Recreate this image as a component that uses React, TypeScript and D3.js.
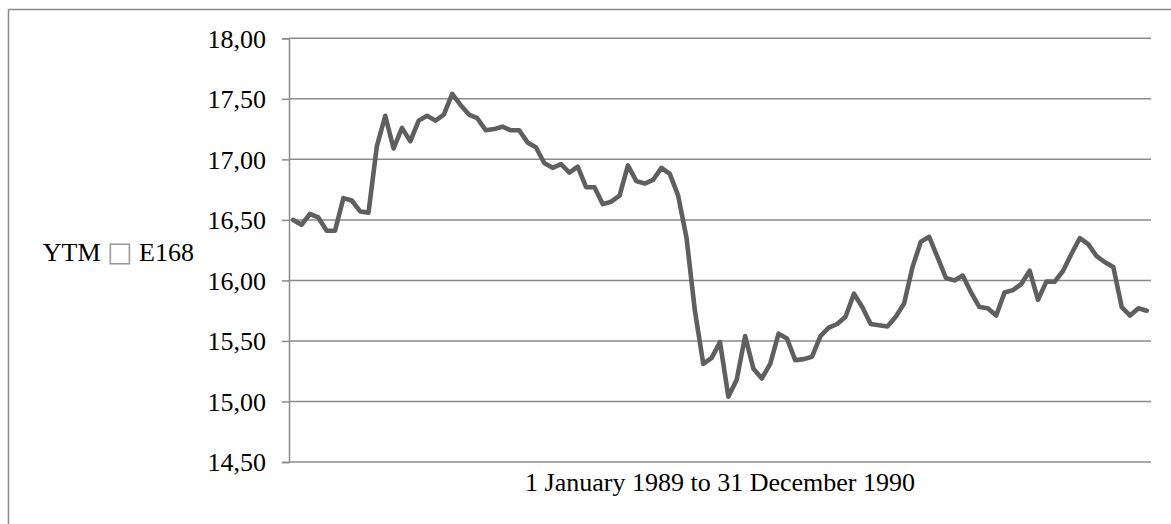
import { useEffect, useRef } from 'react';
import * as d3 from 'd3';

// weekly YTM of E168, 1 Jan 1989 – 31 Dec 1990
const ytmValues = [
	16.50, 16.46, 16.55, 16.52, 16.41, 16.41, 16.68, 16.66, 16.57, 16.56,
	17.11, 17.36, 17.09, 17.26, 17.15, 17.32, 17.36, 17.32, 17.37, 17.54,
	17.45, 17.37, 17.34, 17.24, 17.25, 17.27, 17.24, 17.24, 17.14, 17.10,
	16.97, 16.93, 16.96, 16.89, 16.94, 16.77, 16.77, 16.63, 16.65, 16.70,
	16.95, 16.82, 16.80, 16.83, 16.93, 16.88, 16.70, 16.35, 15.75, 15.31,
	15.36, 15.49, 15.04, 15.18, 15.54, 15.27, 15.19, 15.31, 15.56, 15.52,
	15.34, 15.35, 15.37, 15.54, 15.61, 15.64, 15.70, 15.89, 15.78, 15.64,
	15.63, 15.62, 15.70, 15.81, 16.11, 16.32, 16.36, 16.19, 16.02, 16.00,
	16.04, 15.90, 15.78, 15.77, 15.71, 15.90, 15.92, 15.97, 16.08, 15.84,
	15.99, 15.99, 16.08, 16.22, 16.35, 16.30, 16.20, 16.15, 16.11, 15.78,
	15.71, 15.77, 15.75
];

// one category per week, no labels shown on the axis
const weekIndex = ytmValues.map((_, i) => i);

const yTicks = [14.5, 15, 15.5, 16, 16.5, 17, 17.5, 18];

// the source title contains a glyph that did not render (shown as a box)
const yTitleParts = ['YTM ', '\u25A1', ' E168'];
const xTitle = '1 January 1989 to 31 December 1990';

export default function App() {
	const svgRef = useRef(null);

	useEffect(() => {
		const svg = d3.select(svgRef.current);
		svg.selectAll('*').remove();

		const width = 1171;
		const height = 524;
		const plot = { left: 289, right: 1151, top: 38.3, bottom: 462 };
		const font = '"Liberation Serif", "Times New Roman", serif';
		const gridColor = '#8a8a8a';

		const nl = d3.formatLocale({ decimal: ',', thousands: '.', grouping: [3], currency: ['', ''] });
		const fmt = nl.format('.2f');

		svg.attr('viewBox', `0 0 ${width} ${height}`);

		// outer chart frame (only left and top edges are inside the picture)
		svg.append('path')
			.attr('d', `M8.5,${height} V9.5 H${width}`)
			.attr('fill', 'none')
			.attr('stroke', gridColor)
			.attr('stroke-width', 1.5);

		const x = d3.scalePoint().domain(weekIndex).range([plot.left, plot.right]).padding(0.5);
		const y = d3.scaleLinear().domain([14.5, 18]).range([plot.bottom, plot.top]);

		// gridlines
		svg.append('g')
			.selectAll('line')
			.data(yTicks)
			.join('line')
			.attr('x1', plot.left)
			.attr('x2', plot.right)
			.attr('y1', (d) => y(d))
			.attr('y2', (d) => y(d))
			.attr('stroke', gridColor)
			.attr('stroke-width', 1.5);

		// y axis
		const yAxis = svg.append('g')
			.attr('transform', `translate(${plot.left},0)`)
			.call(d3.axisLeft(y).tickValues(yTicks).tickSize(7).tickPadding(16).tickFormat(fmt));
		yAxis.select('.domain').attr('stroke', gridColor).attr('stroke-width', 1.5);
		yAxis.selectAll('.tick line').attr('stroke', gridColor).attr('stroke-width', 1.5);
		yAxis.selectAll('.tick text')
			.attr('font-family', font)
			.attr('font-size', 26)
			.attr('fill', '#000')
			.attr('dy', '0.34em');

		// series
		const line = d3.line()
			.x((_, i) => x(weekIndex[i]))
			.y((d) => y(d));

		svg.append('path')
			.datum(ytmValues)
			.attr('d', line)
			.attr('fill', 'none')
			.attr('stroke', '#5f5f5f')
			.attr('stroke-width', 4.6)
			.attr('stroke-linejoin', 'round')
			.attr('stroke-linecap', 'round');

		// titles
		const yt = svg.append('text')
			.attr('x', 194)
			.attr('y', 261)
			.attr('text-anchor', 'end')
			.attr('font-family', font)
			.attr('font-size', 26)
			.attr('fill', '#000');
		yt.append('tspan').text(yTitleParts[0]);
		yt.append('tspan')
			.attr('font-family', '"DejaVu Sans", sans-serif')
			.attr('font-size', 27)
			.attr('fill', '#9a9a9a')
			.text(yTitleParts[1]);
		yt.append('tspan').text(yTitleParts[2]);

		svg.append('text')
			.attr('x', (plot.left + plot.right) / 2)
			.attr('y', 491)
			.attr('text-anchor', 'middle')
			.attr('font-family', font)
			.attr('font-size', 26)
			.attr('fill', '#000')
			.text(xTitle);

		return () => {
			svg.selectAll('*').remove();
		};
	}, []);

	return (
		<svg
			ref={svgRef}
			width={1171}
			height={524}
			style={{ position: 'fixed', left: 0, top: 0, background: '#fff', display: 'block' }}
		/>
	);
}
